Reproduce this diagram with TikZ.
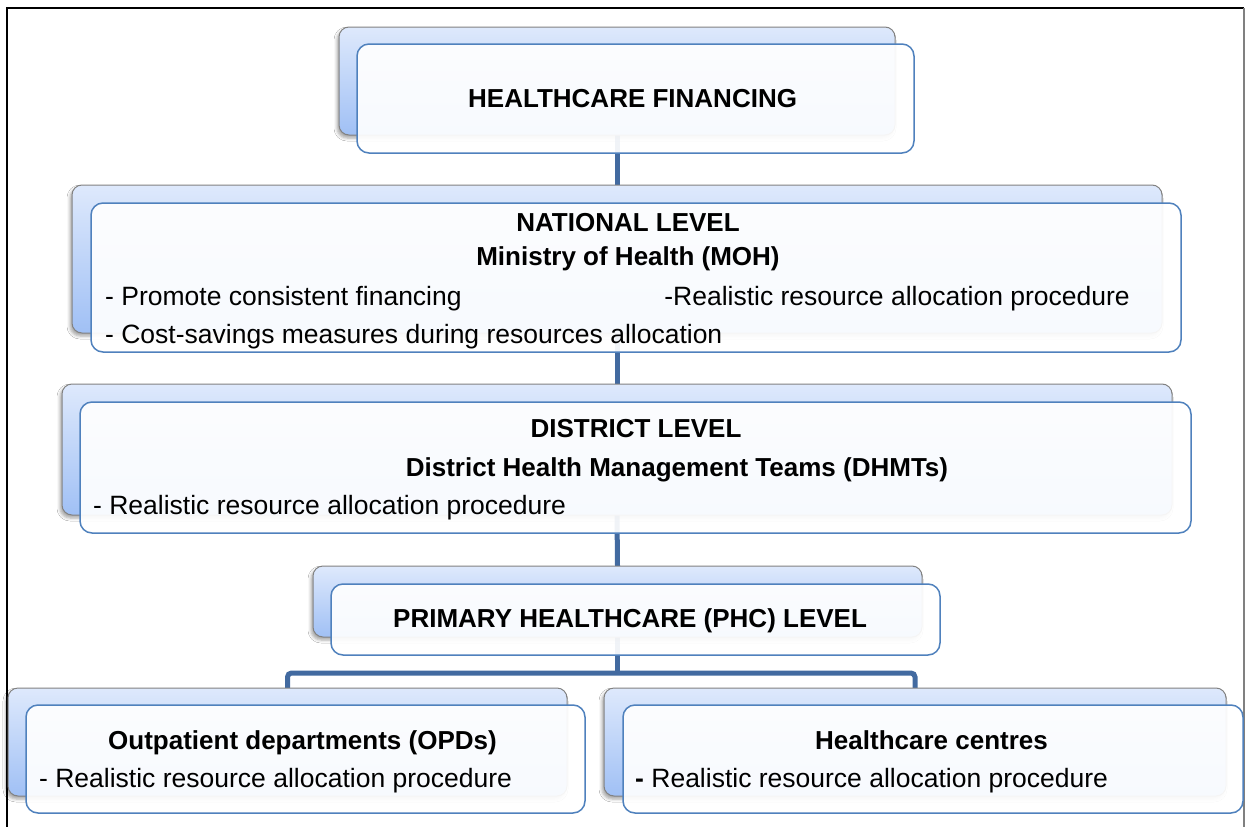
\documentclass[tikz,border=0pt]{standalone}
\usepackage{fontspec}
\setmainfont{Liberation Sans}
\usetikzlibrary{shadows.blur}
\definecolor{frontline}{RGB}{79,129,189}
\definecolor{conn}{RGB}{66,106,160}
\definecolor{backtop}{RGB}{222,233,252}
\definecolor{backbot}{RGB}{160,192,245}
\definecolor{backline}{RGB}{130,130,130}
\begin{document}
\begin{tikzpicture}[x=1pt,y=-1pt,
  backbox/.style={draw=backline, line width=1pt, rounded corners=10pt,
    top color=backtop, bottom color=backbot, inner sep=0pt, outer sep=0pt,
    blur shadow={shadow xshift=-2pt, shadow yshift=-3pt, shadow opacity=35, shadow blur radius=3pt}},
  frontbox/.style={draw=frontline, line width=1.5pt, rounded corners=12pt,
    fill=white, fill opacity=0.92, inner sep=0pt, outer sep=0pt},
  anchorbox/.style={inner sep=0pt, outer sep=0pt},
  connector/.style={draw=conn, line width=5pt},
  hd/.style={font=\fontsize{26}{31}\selectfont\bfseries, inner sep=0pt},
  tx/.style={font=\fontsize{26.5}{32}\selectfont, inner sep=0pt}]
\useasboundingbox (0,0) rectangle (1245,827);
\fill[white] (0,0) rectangle (1245,827);

% frame
\draw[black, line width=2pt] (7,827) -- (7,8) -- (1244,8);
\draw[gray, line width=1.5pt] (1244,8) -- (1244,827);

% box centres
\coordinate (cb1) at (617,81);
\coordinate (cb2) at (617,259);
\coordinate (cb3) at (617,449.5);
\coordinate (cb4) at (617.5,601.5);
\coordinate (cb5) at (287.5,742);
\coordinate (cb6) at (915,742);

% invisible anchors for connectors
\node[anchorbox, minimum width=556pt, minimum height=108pt] (a1) at (cb1) {};
\node[anchorbox, minimum width=1090pt, minimum height=148pt] (a2) at (cb2) {};
\node[anchorbox, minimum width=1110pt, minimum height=131pt] (a3) at (cb3) {};
\node[anchorbox, minimum width=609pt, minimum height=71pt] (a4) at (cb4) {};
\node[anchorbox, minimum width=559pt, minimum height=108pt] (a5) at (cb5) {};
\node[anchorbox, minimum width=622pt, minimum height=108pt] (a6) at (cb6) {};
\coordinate (bar) at (617,673);

% connectors
\draw[connector] (a1.south) -- (a2.north);
\draw[connector] (a2.south) -- (a3.north);
\draw[connector] (a3.south) -- (a4.north);
\draw[connector] (a4.south) -- (a4.south |- bar);
\draw[connector, rounded corners=4pt] (a5.north) |- (bar) -| (a6.north);

% back boxes
\node[backbox, minimum width=556pt, minimum height=108pt] (b1) at (cb1) {};
\node[backbox, minimum width=1090pt, minimum height=148pt] (b2) at (cb2) {};
\node[backbox, minimum width=1110pt, minimum height=131pt] (b3) at (cb3) {};
\node[backbox, minimum width=609pt, minimum height=71pt] (b4) at (cb4) {};
\node[backbox, minimum width=559pt, minimum height=108pt] (b5) at (cb5) {};
\node[backbox, minimum width=622pt, minimum height=108pt] (b6) at (cb6) {};

% front boxes
\node[frontbox, minimum width=557pt, minimum height=109pt] (f1) at (635.5,98.5) {};
\node[frontbox, minimum width=1090pt, minimum height=149pt] (f2) at (636,277.5) {};
\node[frontbox, minimum width=1111pt, minimum height=131pt] (f3) at (635.5,467.5) {};
\node[frontbox, minimum width=609pt, minimum height=71pt] (f4) at (635.5,619.5) {};
\node[frontbox, minimum width=559pt, minimum height=108pt] (f5) at (305.5,759) {};
\node[frontbox, minimum width=620pt, minimum height=108pt] (f6) at (933,759) {};

% texts
\node[hd, anchor=base west] (t1) at (468,107) {HEALTHCARE FINANCING};
\node[hd, anchor=base] (t2a) at (628,231) {NATIONAL LEVEL};
\node[hd, anchor=base] (t2b) at (628,265) {Ministry of Health (MOH)};
\node[tx, anchor=base west] (t2c) at (105,305) {- Promote consistent financing};
\node[tx, anchor=base east] (t2d) at (1130,305) {-Realistic resource allocation procedure};
\node[tx, anchor=base west] (t2e) at (105,343) {- Cost-savings measures during resources allocation};
\node[hd, anchor=base] (t3a) at (636,437) {DISTRICT LEVEL};
\node[hd, anchor=base] (t3b) at (677,476) {District Health Management Teams (DHMTs)};
\node[tx, anchor=base west] (t3c) at (93,514) {- Realistic resource allocation procedure};
\node[hd, anchor=base west] (t4) at (393,627) {PRIMARY HEALTHCARE (PHC) LEVEL};
\node[hd, anchor=base west] (t5a) at (108,749) {Outpatient departments (OPDs)};
\node[tx, anchor=base west] (t5b) at (39,787) {- Realistic resource allocation procedure};
\node[hd, anchor=base west] (t6a) at (815,749) {Healthcare centres};
\node[tx, anchor=base west] (t6b) at (635,787) {\textbf{-} Realistic resource allocation procedure};
\end{tikzpicture}
\end{document}
